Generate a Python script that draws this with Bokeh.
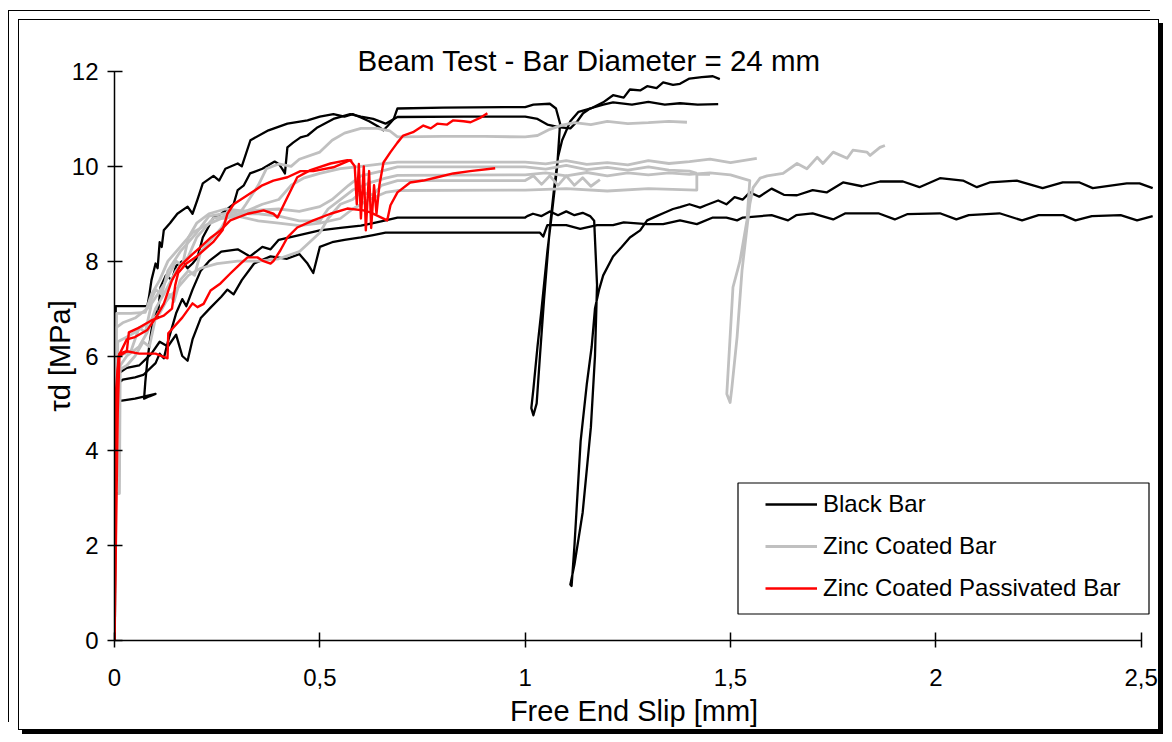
from bokeh.plotting import figure
from bokeh.layouts import column
from bokeh.models import Range1d, BoxAnnotation, Legend, LegendItem, FixedTicker
from bokeh.embed import file_html
from bokeh.resources import INLINE

# ---------------- data (slip [mm], bond stress [MPa]) ----------------
black_1 = [(0,0),(0.003,7.05),(0.08,7.05),(0.085,7.3),(0.09,7.6),(0.1,7.95),(0.105,7.85),(0.11,8.4),(0.115,8.3),(0.12,8.65),(0.135,8.8),(0.153,9.0),(0.178,9.15),(0.19,9.0),(0.202,9.3),(0.215,9.64),(0.241,9.8),(0.255,9.7),(0.27,9.95),(0.3,10.06),(0.31,10.0),(0.331,10.55),(0.375,10.76),(0.421,10.9),(0.47,10.97),(0.5,11.05),(0.533,11.1),(0.56,11.05),(0.58,11.1),(0.6,11.03),(0.62,10.95),(0.64,10.85),(0.655,10.76),(0.665,10.85),(0.68,11.0),(0.689,11.22),(0.8,11.24),(0.95,11.25),(1.0,11.25),(1.02,11.3),(1.06,11.32),(1.075,11.22),(1.085,10.9),(1.078,10.0),(1.065,9.0),(1.054,8.2),(1.04,7.0),(1.03,6.2),(1.02,5.3),(1.015,4.9),(1.02,4.75),(1.028,5.0),(1.036,6.0),(1.046,7.2),(1.06,8.7),(1.07,9.5),(1.08,10.2),(1.09,10.55),(1.11,10.95),(1.13,11.15),(1.16,11.22),(1.19,11.35),(1.214,11.5),(1.24,11.45),(1.255,11.62),(1.28,11.6),(1.297,11.69),(1.32,11.65),(1.336,11.77),(1.36,11.72),(1.377,11.74),(1.4,11.85),(1.43,11.88),(1.457,11.9),(1.474,11.84)]
black_2 = [(0,0),(0.003,5.0),(0.01,5.05),(0.05,5.1),(0.1,5.2),(0.085,5.15),(0.072,5.1),(0.075,5.45),(0.08,5.9),(0.086,6.3),(0.09,6.54),(0.1,6.96),(0.105,6.8),(0.112,7.45),(0.125,7.7),(0.14,7.6),(0.15,7.9),(0.165,8.0),(0.178,7.85),(0.19,7.95),(0.202,8.08),(0.215,8.5),(0.241,8.92),(0.26,9.0),(0.29,9.2),(0.3,9.5),(0.315,9.6),(0.33,9.85),(0.36,9.95),(0.39,10.1),(0.4,10.05),(0.408,9.95),(0.415,9.85),(0.421,10.4),(0.435,10.5),(0.453,10.61),(0.47,10.65),(0.494,10.82),(0.533,11.0),(0.574,11.1),(0.6,11.05),(0.63,11.0),(0.66,10.9),(0.689,11.04),(0.85,11.05),(1.0,11.05),(1.03,11.0),(1.054,10.88),(1.085,10.82),(1.11,10.8),(1.127,10.95),(1.141,11.12),(1.158,11.22),(1.19,11.3),(1.214,11.35),(1.26,11.3),(1.3,11.36),(1.34,11.3),(1.377,11.33),(1.42,11.3),(1.47,11.31)]
black_3 = [(0,0),(0.004,5.4),(0.02,5.5),(0.05,5.55),(0.07,5.6),(0.1,5.85),(0.11,6.05),(0.12,5.95),(0.13,6.3),(0.15,6.9),(0.165,7.2),(0.175,7.05),(0.19,7.4),(0.21,7.8),(0.23,8.0),(0.26,8.2),(0.3,8.25),(0.33,8.1),(0.36,8.3),(0.38,8.25),(0.4,8.45),(0.45,8.55),(0.5,8.65),(0.55,8.7),(0.6,8.75),(0.63,8.8),(0.66,8.86),(0.689,8.92),(1.0,8.92),(1.005,8.95),(1.019,9.0),(1.04,8.95),(1.06,9.05),(1.08,8.97),(1.1,9.05),(1.12,8.97),(1.14,9.02),(1.158,8.95),(1.168,8.85),(1.175,7.5),(1.17,6.0),(1.16,4.5),(1.14,2.7),(1.12,1.6),(1.11,1.18),(1.113,1.15),(1.12,2.0),(1.135,4.2),(1.15,5.4),(1.162,6.2),(1.17,7.0),(1.18,7.4),(1.19,7.7),(1.214,8.1),(1.235,8.3),(1.255,8.5),(1.28,8.65),(1.297,8.86),(1.32,8.95),(1.336,9.01),(1.36,9.1),(1.377,9.14),(1.4,9.2),(1.426,9.13),(1.44,9.18),(1.47,9.28),(1.49,9.2),(1.51,9.35),(1.53,9.3),(1.547,9.45),(1.57,9.36),(1.6,9.53),(1.63,9.4),(1.662,9.39),(1.7,9.5),(1.734,9.45),(1.774,9.66),(1.82,9.58),(1.864,9.68),(1.92,9.68),(1.96,9.56),(2.01,9.75),(2.066,9.7),(2.1,9.56),(2.131,9.66),(2.197,9.7),(2.26,9.54),(2.309,9.66),(2.35,9.66),(2.382,9.54),(2.43,9.6),(2.465,9.64),(2.496,9.64),(2.528,9.54)]
black_4 = [(0,0),(0.004,5.6),(0.03,5.75),(0.06,5.8),(0.09,6.05),(0.11,6.3),(0.13,6.2),(0.15,6.45),(0.165,6.0),(0.178,5.9),(0.19,6.35),(0.21,6.8),(0.235,7.03),(0.26,7.25),(0.275,7.4),(0.29,7.3),(0.31,7.6),(0.34,7.95),(0.38,8.1),(0.42,8.05),(0.45,8.15),(0.47,7.95),(0.484,7.75),(0.5,8.3),(0.53,8.4),(0.56,8.45),(0.6,8.5),(0.63,8.55),(0.66,8.6),(1.0,8.6),(1.036,8.6),(1.044,8.52),(1.054,8.76),(1.1,8.76),(1.134,8.68),(1.175,8.76),(1.214,8.76),(1.24,8.82),(1.297,8.78),(1.336,8.78),(1.377,8.86),(1.418,8.78),(1.457,8.92),(1.49,8.92),(1.516,8.86),(1.53,8.92),(1.6,8.97),(1.64,8.86),(1.66,8.97),(1.7,9.01),(1.75,8.88),(1.78,9.01),(1.86,9.01),(1.9,8.88),(1.93,8.99),(2.01,9.01),(2.05,8.88),(2.08,8.97),(2.155,9.01),(2.21,8.86),(2.25,8.97),(2.31,8.97),(2.34,8.86),(2.38,8.95),(2.45,8.97),(2.49,8.86),(2.528,8.95)]

zinc_1 = [(0,0),(0.003,4.0),(0.008,6.3),(0.03,6.4),(0.05,6.5),(0.08,6.7),(0.11,6.9),(0.135,7.3),(0.145,7.15),(0.16,7.6),(0.18,7.8),(0.195,7.7),(0.21,8.2),(0.24,8.5),(0.26,8.7),(0.28,9.0),(0.3,8.95),(0.32,9.2),(0.35,9.6),(0.37,9.95),(0.4,10.05),(0.43,10.0),(0.45,10.15),(0.5,10.3),(0.53,10.55),(0.56,10.7),(0.6,10.8),(0.64,10.8),(0.67,10.75),(0.689,10.62),(0.8,10.63),(0.9,10.63),(1.0,10.62),(1.03,10.65),(1.06,10.78),(1.09,10.87),(1.12,10.92),(1.16,10.88),(1.2,10.95),(1.25,10.9),(1.3,10.92),(1.35,10.95),(1.394,10.93)]
zinc_2 = [(0,0),(0.004,5.8),(0.01,6.0),(0.04,6.1),(0.06,6.6),(0.075,6.5),(0.09,7.1),(0.12,7.5),(0.15,8.0),(0.165,7.9),(0.18,8.5),(0.2,8.8),(0.23,9.0),(0.27,9.1),(0.32,9.05),(0.36,9.2),(0.4,9.3),(0.43,9.6),(0.46,9.75),(0.5,9.85),(0.55,9.95),(0.6,10.0),(0.65,10.05),(0.689,10.09),(1.0,10.09),(1.05,10.05),(1.1,10.12),(1.15,10.04),(1.2,10.08),(1.25,10.03),(1.3,10.12),(1.35,10.06),(1.4,10.1),(1.45,10.15),(1.5,10.08),(1.53,10.12),(1.564,10.17)]
zinc_3 = [(0,0),(0.004,6.6),(0.02,6.7),(0.05,6.8),(0.08,7.0),(0.1,7.4),(0.115,7.3),(0.13,7.8),(0.16,8.2),(0.2,8.6),(0.23,8.95),(0.3,9.05),(0.4,9.1),(0.45,9.05),(0.5,9.15),(0.53,9.3),(0.57,9.6),(0.6,9.8),(0.65,9.9),(0.689,9.99),(1.0,9.99),(1.05,9.94),(1.1,10.02),(1.15,9.93),(1.2,9.98),(1.25,9.92),(1.3,9.99),(1.35,9.92),(1.4,9.9),(1.418,9.85)]
zinc_4 = [(0,0),(0.003,3.1),(0.012,3.1),(0.014,5.8),(0.03,6.0),(0.06,6.2),(0.08,6.5),(0.1,7.0),(0.12,7.3),(0.15,7.8),(0.18,8.1),(0.2,8.5),(0.24,8.9),(0.3,9.0),(0.35,9.0),(0.4,8.95),(0.45,8.85),(0.5,8.85),(0.52,9.1),(0.55,9.3),(0.58,9.5),(0.62,9.65),(0.66,9.75),(0.689,9.81),(1.0,9.82),(1.05,9.86),(1.1,9.8),(1.15,9.87),(1.2,9.8),(1.25,9.86),(1.3,9.82),(1.35,9.86),(1.4,9.83),(1.45,9.86),(1.5,9.82),(1.547,9.7),(1.54,8.86),(1.523,8.0),(1.506,7.45),(1.499,6.4),(1.491,5.2),(1.499,5.02),(1.503,5.3),(1.516,6.4),(1.528,7.8),(1.54,8.7),(1.547,9.2),(1.555,9.55),(1.572,9.75),(1.589,9.8),(1.628,9.85),(1.662,10.06),(1.686,9.95),(1.711,10.19),(1.725,10.06),(1.75,10.3),(1.784,10.17),(1.798,10.34),(1.832,10.3),(1.84,10.23),(1.864,10.4),(1.876,10.44)]
zinc_5 = [(0,0),(0.004,5.0),(0.01,5.7),(0.03,5.8),(0.05,6.0),(0.07,6.3),(0.085,6.2),(0.1,6.8),(0.12,7.1),(0.15,7.4),(0.18,7.7),(0.21,7.85),(0.25,7.95),(0.3,8.0),(0.35,8.0),(0.4,8.05),(0.45,8.2),(0.5,8.6),(0.52,8.9),(0.55,9.2),(0.58,9.3),(0.6,9.45),(0.63,9.4),(0.65,9.6),(0.689,9.7),(1.0,9.7),(1.02,9.8),(1.04,9.62),(1.06,9.8),(1.08,9.6),(1.1,9.8),(1.12,9.6),(1.14,9.76),(1.16,9.58),(1.182,9.72)]
zinc_6 = [(0,0),(0.005,6.9),(0.04,6.9),(0.075,6.92),(0.09,7.3),(0.11,7.6),(0.13,8.0),(0.16,8.3),(0.19,8.6),(0.22,8.75),(0.26,8.9),(0.3,8.95),(0.35,8.85),(0.4,8.8),(0.45,8.75),(0.5,8.8),(0.55,8.9),(0.58,9.1),(0.62,9.3),(0.66,9.45),(0.689,9.49),(1.0,9.5),(1.1,9.53),(1.2,9.48),(1.3,9.53),(1.418,9.5),(1.418,9.83),(1.45,9.83)]

passiv_1 = [(0,0),(0.004,4.8),(0.008,5.7),(0.012,6.05),(0.03,6.1),(0.035,6.5),(0.06,6.6),(0.09,6.75),(0.12,6.85),(0.14,7.0),(0.148,7.5),(0.155,7.75),(0.175,7.95),(0.2,8.1),(0.24,8.4),(0.263,8.65),(0.275,9.0),(0.29,9.2),(0.331,9.43),(0.36,9.6),(0.387,9.7),(0.421,9.77),(0.453,9.9),(0.484,9.9),(0.533,9.98),(0.574,10.13),(0.585,10.0),(0.59,9.2),(0.595,10.05),(0.6,8.9),(0.607,10.0),(0.612,8.65),(0.62,9.9),(0.625,8.7),(0.632,9.6),(0.638,9.0),(0.645,9.6),(0.655,10.08),(0.672,10.3),(0.689,10.5),(0.703,10.65),(0.727,10.72),(0.752,10.86),(0.77,10.8),(0.786,10.9),(0.81,10.88),(0.825,10.97),(0.85,10.95),(0.867,10.93),(0.89,11.02),(0.908,11.12)]
passiv_2 = [(0,0),(0.008,4.85),(0.012,6.0),(0.03,6.1),(0.06,6.05),(0.1,6.05),(0.129,5.95),(0.131,6.48),(0.165,6.81),(0.19,7.11),(0.202,7.03),(0.217,7.1),(0.234,7.38),(0.258,7.53),(0.282,7.74),(0.307,7.95),(0.324,8.08),(0.348,8.08),(0.363,8.0),(0.38,7.95),(0.387,8.0),(0.404,8.23),(0.421,8.5),(0.445,8.71),(0.484,8.86),(0.526,9.0),(0.567,9.11),(0.606,9.07),(0.623,9.03),(0.664,8.86),(0.672,9.18),(0.689,9.45),(0.72,9.66),(0.752,9.7),(0.786,9.77),(0.825,9.85),(0.866,9.9),(0.927,9.96)]
passiv_3 = [(0,0),(0.004,5.3),(0.01,6.0),(0.03,6.35),(0.05,6.4),(0.08,6.55),(0.1,6.8),(0.12,7.1),(0.14,7.6),(0.16,7.9),(0.19,8.15),(0.21,8.3),(0.235,8.5),(0.258,8.65),(0.282,8.86),(0.324,9.0),(0.363,9.07),(0.387,9.0),(0.397,8.92),(0.421,9.35),(0.445,9.77),(0.477,9.92),(0.526,10.06),(0.567,10.13),(0.579,10.12)]

black_series = [black_1, black_2, black_3, black_4]
zinc_series = [zinc_1, zinc_2, zinc_3, zinc_4, zinc_5, zinc_6]
passiv_series = [passiv_1, passiv_2, passiv_3]

x_ticks = [0, 0.5, 1, 1.5, 2, 2.5]
x_tick_labels = ["0", "0,5", "1", "1,5", "2", "2,5"]
y_ticks = [0, 2, 4, 6, 8, 10, 12]
legend_labels = ["Black Bar", "Zinc Coated Bar", "Zinc Coated Passivated Bar"]
title_text = "Beam Test - Bar Diameter = 24 mm"

FONT = "Liberation Sans"

p = figure(width=1141, height=711, output_backend="svg", toolbar_location=None,
           x_range=Range1d(0, 2.53), y_range=Range1d(0, 12),
           min_border_left=95, min_border_right=7, min_border_top=51, min_border_bottom=91,
           tools="", title=title_text)
p.outline_line_color = None
p.grid.visible = False
p.background_fill_color = "white"
p.border_fill_color = "white"
p.styles = {"border": "1px solid black", "box-shadow": "4px 4px 0px 0px black",
            "transform": "translate(9px, 8px)"}

p.title.text_font = FONT
p.title.text_font_size = "29.5px"
p.title.text_font_style = "normal"
p.title.text_color = "black"
p.title.align = "left"
p.title.offset = 243
p.title.standoff = -10

def draw(series, color, width):
    rs = []
    for s in series:
        xs = [pt[0] for pt in s]
        ys = [pt[1] for pt in s]
        rs.append(p.line(xs, ys, line_color=color, line_width=width, line_join="round"))
    return rs

rb = draw(black_series, "black", 2.3)
rz = draw(zinc_series, "#c0c0c0", 2.8)
rp = draw(passiv_series, "#ff0000", 2.4)

# axes
for ax in (p.xaxis[0], p.yaxis[0]):
    ax.axis_line_color = "black"
    ax.axis_line_width = 1.5
    ax.major_tick_line_color = "black"
    ax.major_tick_line_width = 1.5
    ax.major_tick_in = 8
    ax.major_tick_out = 7
    ax.minor_tick_line_color = None
    ax.major_label_text_font = FONT
    ax.major_label_text_font_size = "24px"
    ax.major_label_text_color = "black"
    ax.axis_label_text_font = FONT
    ax.axis_label_text_font_size = "29px"
    ax.axis_label_text_font_style = "normal"
    ax.axis_label_text_color = "black"

p.xaxis.ticker = FixedTicker(ticks=x_ticks)
p.xaxis.major_label_overrides = {t: l for t, l in zip(x_ticks, x_tick_labels)}
p.xaxis.bounds = (0, 2.5)
p.xaxis.axis_label = "Free End Slip [mm]"
p.xaxis.major_label_standoff = 21
p.xaxis.axis_label_standoff = 6

p.yaxis.ticker = FixedTicker(ticks=y_ticks)
p.yaxis.bounds = (0, 12)
p.yaxis.axis_label = "τd [MPa]"
p.yaxis.major_label_standoff = 9
p.yaxis.axis_label_standoff = -7

# legend frame + legend
p.add_layout(BoxAnnotation(left=623.5, right=1034.5, bottom=26.5, top=157.5,
                           left_units="screen", right_units="screen", top_units="screen", bottom_units="screen",
                           fill_color="white", fill_alpha=1, line_color="black", line_alpha=1, line_width=1.2))
legend = Legend(items=[LegendItem(label=legend_labels[0], renderers=[rb[0]]),
                       LegendItem(label=legend_labels[1], renderers=[rz[0]]),
                       LegendItem(label=legend_labels[2], renderers=[rp[0]])],
                location=(651, 38), padding=0, spacing=14, glyph_width=52, glyph_height=28,
                label_height=28, label_standoff=6, label_text_font=FONT, label_text_font_size="24px",
                label_text_color="black", border_line_alpha=0, background_fill_alpha=0)
p.add_layout(legend)

layout = column(p, styles={"border-left": "1px solid black", "border-top": "1px solid black",
                           "margin-top": "2px", "transform": "translate(8px, 8px)"})

open("out.html", "w").write(file_html(layout, INLINE))
